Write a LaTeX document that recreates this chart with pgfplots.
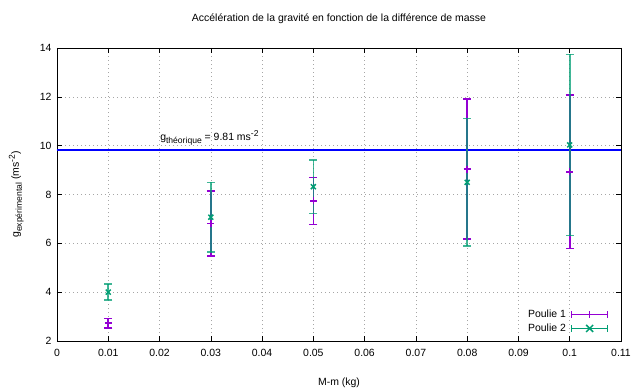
\documentclass[border=0pt]{standalone}
\usepackage{fontspec}
\setmainfont{Liberation Sans}
\usepackage{pgfplots}
\pgfplotsset{compat=1.18}
\definecolor{p1c}{HTML}{9400D3}
\definecolor{p2c}{HTML}{009E73}
\definecolor{hl}{HTML}{0000FF}
\newcommand\fs{\fontsize{10.5}{12}\selectfont}
\newcommand\sub[1]{\raisebox{-2.8bp}{\fontsize{8.6}{10}\selectfont #1}}
\newcommand\sups[1]{\raisebox{4.2bp}{\fontsize{8.6}{10}\selectfont #1}}
\begin{document}
\begin{tikzpicture}
\path[use as bounding box] (-57bp,-51bp) rectangle (583bp,341bp);
\begin{axis}[
  scale only axis, width=564bp, height=293bp,
  xmin=0, xmax=0.11, ymin=2, ymax=14,
  xtick={0,0.01,0.02,0.03,0.04,0.05,0.06,0.07,0.08,0.09,0.1,0.11},
  xticklabels={0,0.01,0.02,0.03,0.04,0.05,0.06,0.07,0.08,0.09,0.1,0.11},
  ytick={2,4,6,8,10,12,14},
  scaled ticks=false,
  /pgf/number format/assume math mode=true,
  tick align=inside, major tick length=5bp,
  tick style={black, line width=0.6pt},
  axis line style={black, line width=0.8pt},
  grid=major,
  major grid style={gray!70, line width=0.6pt, dash pattern=on 1bp off 3bp},
  ticklabel style={font=\fs},
  xticklabel style={yshift=-5bp},
  yticklabel style={xshift=-2bp},
  label style={font=\fs},
  xlabel={M-m (kg)},
  ylabel={g\sub{expérimental} (ms\sups{-2})},
  xlabel style={at={(axis description cs:0.5,0)}, anchor=base, yshift=-44bp},
  ylabel style={at={(axis description cs:-0.0674,0.5)}, anchor=base},
  title={Accélération de la gravité en fonction de la différence de masse},
  title style={font=\fs, at={(axis description cs:0.5,1)}, anchor=base, yshift=21bp},
  legend plot pos=right,
  legend cell align=right,
  legend style={at={(rel axis cs:0.978,0.02)}, anchor=south east, draw=none, fill=none,
    font=\fs, row sep=1bp, column sep=3bp, inner sep=0pt},
]
\addplot[hl, line width=2.3pt, forget plot] coordinates {(0,9.81) (0.11,9.81)};
\node[anchor=base west, font=\fs, inner sep=0pt] at (axis cs:0.0201,10.2)
  {g\sub{théorique} = 9.81 ms\sups{-2}};

\addplot[only marks, p1c, mark=+, mark size=3.5bp, line width=1.5pt, forget plot,
  error bars/.cd, y dir=both, y explicit,
  error bar style={p1c, line width=1.6pt},
  error mark options={rotate=90, p1c, mark size=4bp, line width=1.5pt}]
  table[x=x, y=y, y error=e] {
x y e
0.01 2.73 0.20
0.03 6.81 1.33
0.05 7.74 0.96
0.08 9.04 2.87
0.10 8.93 3.15
};
\addplot[only marks, p2c, mark=x, mark size=3.5bp, line width=1.5pt, forget plot,
  error bars/.cd, y dir=both, y explicit,
  error bar style={p2c, line width=1.6pt, opacity=0.75},
  error mark options={rotate=90, p2c, mark size=4bp, line width=1.5pt}]
  table[x=x, y=y, y error=e] {
x y e
0.01 4.00 0.33
0.03 7.07 1.43
0.05 8.32 1.09
0.08 8.50 2.61
0.10 10.03 3.71
};

\addlegendimage{legend image code/.code={
  \draw[p1c, line width=1.5pt] (0bp,0bp) -- (36bp,0bp);
  \draw[p1c, line width=1.5pt] (0bp,-3.5bp) -- (0bp,3.5bp);
  \draw[p1c, line width=1.5pt] (36bp,-3.5bp) -- (36bp,3.5bp);
  \draw[p1c, line width=1.5pt] (18bp,-3.5bp) -- (18bp,3.5bp);
}}
\addlegendentry{Poulie 1}
\addlegendimage{legend image code/.code={
  \draw[p2c, line width=1.5pt] (0bp,0bp) -- (36bp,0bp);
  \draw[p2c, line width=1.5pt] (0bp,-3.5bp) -- (0bp,3.5bp);
  \draw[p2c, line width=1.5pt] (36bp,-3.5bp) -- (36bp,3.5bp);
  \draw[p2c, line width=1.5pt] (14.5bp,-3.5bp) -- (21.5bp,3.5bp);
  \draw[p2c, line width=1.5pt] (14.5bp,3.5bp) -- (21.5bp,-3.5bp);
}}
\addlegendentry{Poulie 2}
\end{axis}
\end{tikzpicture}
\end{document}
